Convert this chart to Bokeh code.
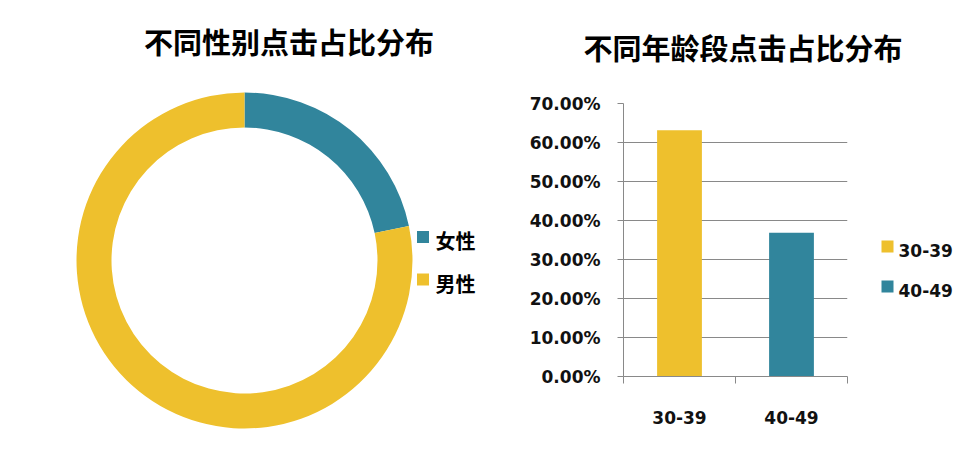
import math
from bokeh.plotting import figure
from bokeh.layouts import column, row
from bokeh.models import Range1d, FixedTicker, NumeralTickFormatter
from bokeh.core.properties import value
from bokeh.embed import file_html
from bokeh.resources import INLINE

# ---------------- data ----------------
titles = ["不同性别点击占比分布", "不同年龄段点击占比分布"]
gender_labels = ["女性", "男性"]
gender_values = [0.217, 0.783]
gender_colors = ["#31859C", "#EEC02D"]

age_labels = ["30-39", "40-49"]
age_values = [0.6316, 0.3684]
age_colors = ["#EEC02D", "#31859C"]
y_ticks = [0.0, 0.1, 0.2, 0.3, 0.4, 0.5, 0.6, 0.7]

GRAY = "#898989"
CJK = "Noto Sans CJK SC"
LAT = "DejaVu Sans"


def bare(p):
    p.axis.visible = False
    p.grid.visible = False
    p.outline_line_color = None
    p.min_border = 0
    return p


# ---------------- titles ----------------
tf = bare(figure(width=970, height=88, x_range=Range1d(0, 970), y_range=Range1d(88, 0),
                 output_backend="svg", toolbar_location=None, frame_align=False))
tf.text(x=[288.5, 742.5], y=[40.5, 46.5], text=titles, text_align="center", text_baseline="middle",
        text_font=value(CJK), text_font_style="bold", text_font_size="29px", text_color="#000000")

# ---------------- donut ----------------
H = 450
df = bare(figure(width=498, height=362, x_range=Range1d(0, 498), y_range=Range1d(H - 450, H - 88),
                 output_backend="svg", toolbar_location=None, frame_align=False))
cx, cy = 244, H - 260
starts, ends = [], []
cum = 0.0
for v in gender_values:
    starts.append(math.pi / 2 - 2 * math.pi * cum)
    cum += v
    ends.append(math.pi / 2 - 2 * math.pi * cum)
df.annular_wedge(x=[cx] * len(gender_values), y=[cy] * len(gender_values),
                 inner_radius=133, outer_radius=168, start_angle=starts, end_angle=ends,
                 direction="clock", fill_color=gender_colors, line_color=None)
df.scatter(x=[422.5] * 2, y=[H - 236.5, H - 279], marker="square", size=12,
           fill_color=gender_colors, line_color=None)
df.text(x=[435] * 2, y=[H - 240, H - 283], text=gender_labels, text_align="left", text_baseline="middle",
        text_font=value(CJK), text_font_style="bold", text_font_size="20px", text_color="#000000")

# ---------------- bar chart ----------------
bf = figure(width=372, height=362, x_range=Range1d(0, len(age_labels)), y_range=Range1d(0, 0.7),
            output_backend="svg", toolbar_location=None, frame_align=False,
            min_border_left=125, min_border_right=23, min_border_top=15, min_border_bottom=74)
bf.outline_line_color = None
xs = [i + 0.5 for i in range(len(age_labels))]
bf.vbar(x=xs, top=age_values, width=0.4, fill_color=age_colors, line_color=None)

bf.xgrid.visible = False
bf.ygrid.ticker = FixedTicker(ticks=y_ticks)
bf.ygrid.grid_line_color = GRAY
bf.ygrid.grid_line_width = 1

ya = bf.yaxis[0]
ya.ticker = FixedTicker(ticks=y_ticks)
ya.formatter = NumeralTickFormatter(format="0.00%")
ya.axis_line_color = GRAY
ya.major_tick_line_color = GRAY
ya.major_tick_out = 6
ya.major_tick_in = 0
ya.minor_tick_line_color = None
ya.major_label_standoff = 17
ya.major_label_text_font = LAT
ya.major_label_text_font_style = "bold"
ya.major_label_text_font_size = "17px"
ya.major_label_text_color = "#111111"

xa = bf.xaxis[0]
xa.ticker = FixedTicker(ticks=xs, minor_ticks=list(range(len(age_labels) + 1)))
xa.major_label_overrides = {x: lab for x, lab in zip(xs, age_labels)}
xa.axis_line_color = GRAY
xa.major_tick_out = 0
xa.major_tick_in = 0
xa.major_tick_line_color = None
xa.minor_tick_line_color = GRAY
xa.minor_tick_out = 7
xa.minor_tick_in = 0
xa.major_label_standoff = 27
xa.major_label_text_font = LAT
xa.major_label_text_font_style = "bold"
xa.major_label_text_font_size = "17px"
xa.major_label_text_color = "#111111"

# ---------------- bar legend ----------------
lf = bare(figure(width=100, height=362, x_range=Range1d(870, 970), y_range=Range1d(450, 88),
                 output_backend="svg", toolbar_location=None, frame_align=False))
lf.scatter(x=[887] * 2, y=[246, 286], marker="square", size=12, fill_color=age_colors, line_color=None)
lf.text(x=[898] * 2, y=[250, 290], text=age_labels, text_align="left", text_baseline="middle",
        text_font=value(LAT), text_font_style="bold", text_font_size="17px", text_color="#111111")

layout = column(tf, row(df, bf, lf))
open("out.html", "w").write(file_html(layout, INLINE))
